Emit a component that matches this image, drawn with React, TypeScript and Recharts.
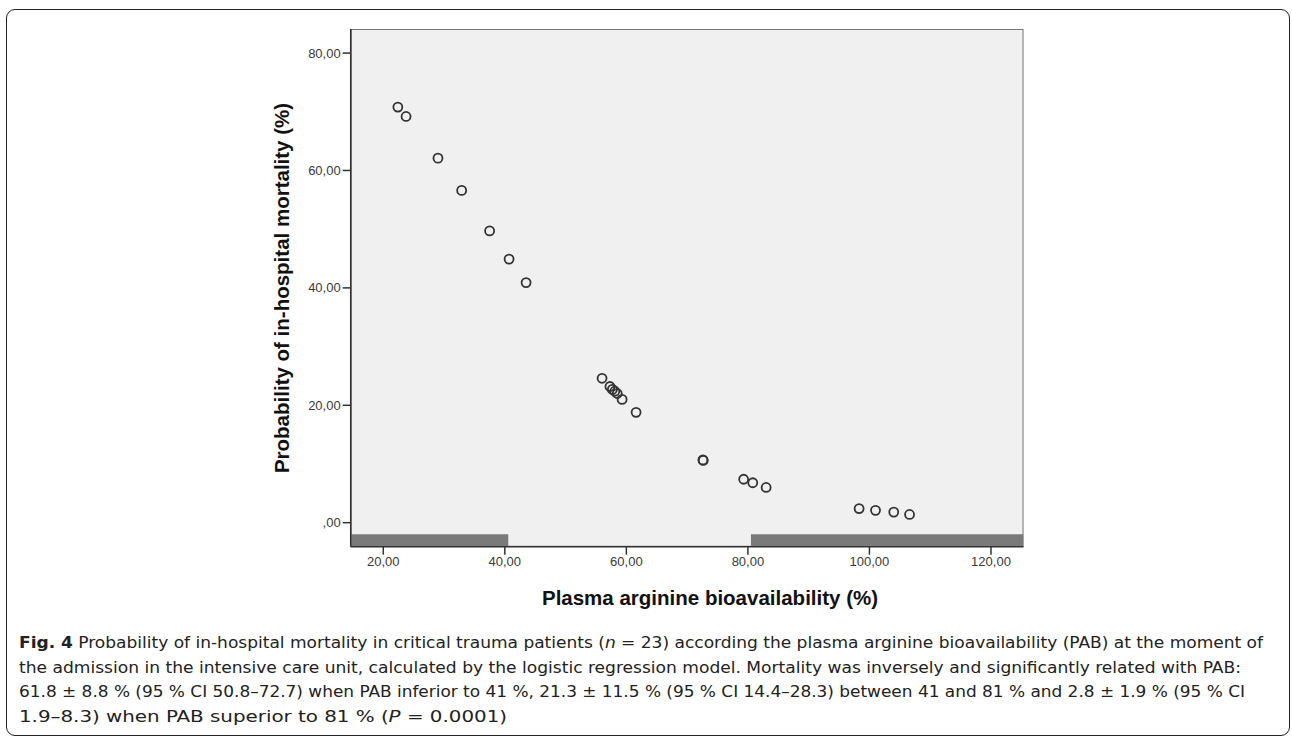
import { ScatterChart, Scatter, XAxis, YAxis, CartesianGrid, ReferenceArea, Label } from 'recharts';

// values (n = 23)
const pab = [22.4, 23.75, 29.0, 32.9, 37.5, 40.7, 43.5, 56.0, 57.3, 57.7, 58.1, 58.5, 59.3, 61.6, 72.6, 72.65, 79.3, 80.8, 83.0, 98.3, 101.0, 104.0, 106.6];
const mortality = [70.8, 69.2, 62.1, 56.6, 49.7, 44.9, 40.9, 24.6, 23.2, 22.7, 22.4, 22.0, 21.0, 18.8, 10.7, 10.6, 7.4, 6.8, 6.0, 2.4, 2.1, 1.8, 1.4];

const xTicks = [20, 40, 60, 80, 100, 120];
const xTickLabels = ['20,00', '40,00', '60,00', '80,00', '100,00', '120,00'];
const yTicks = [0, 20, 40, 60, 80];
const yTickLabels = [',00', '20,00', '40,00', '60,00', '80,00'];

// PAB groups marked by the grey bars along the x axis
const lowGroup = [14.64, 40.57];
const highGroup = [80.5, 125.35];

const xDomain = [14.64, 125.35];
const yDomain = [-4.09, 84.1];
const barBand = [-4.09, -1.98];

const captionLines = [
  [{ t: 'Fig. 4', b: true }, { t: ' Probability of in-hospital mortality in critical trauma patients (' }, { t: 'n', i: true }, { t: ' = 23) according the plasma arginine bioavailability (PAB) at the moment of' }],
  [{ t: 'the admission in the intensive care unit, calculated by the logistic regression model. Mortality was inversely and significantly related with PAB:' }],
  [{ t: '61.8 ± 8.8 % (95 % CI 50.8–72.7) when PAB inferior to 41 %, 21.3 ± 11.5 % (95 % CI 14.4–28.3) between 41 and 81 % and 2.8 ± 1.9 % (95 % CI' }],
  [{ t: '1.9–8.3) when PAB superior to 81 % (' }, { t: 'P', i: true }, { t: ' = 0.0001)' }],
];
const captionWidths = [1244, 1222, 1226, 488];

const data = pab.map((x, i) => ({ x, y: mortality[i] }));

const fmt = (ticks: number[], labels: string[]) => (v: number) => {
  const i = ticks.indexOf(v);
  return i >= 0 ? labels[i] : String(v);
};

const arial = "'Liberation Sans', Arial, Helvetica, sans-serif";
const tickStyle = { fill: '#3a3a3a', fontSize: 13, fontFamily: arial };

const Ring = (props: any) => (
  <circle cx={props.cx} cy={props.cy} r={4.5} fill="none" stroke="#333" strokeWidth={1.8} />
);

export default function App() {
  return (
    <div style={{ position: 'absolute', left: 0, top: 0, width: 1292, height: 737, background: '#fff' }}>
      <div
        style={{
          position: 'absolute',
          left: 6,
          top: 9,
          width: 1284,
          height: 727,
          boxSizing: 'border-box',
          border: '1.5px solid #222',
          borderRadius: 9,
        }}
      />
      <div style={{ position: 'absolute', left: 0, top: 0 }}>
        <ScatterChart width={1292} height={620} margin={{ top: 29, right: 268.5, bottom: 0, left: 0 }}>
          <CartesianGrid horizontal={false} vertical={false} fill="#f0f0f0" />
          <ReferenceArea x1={xDomain[0]} x2={xDomain[1]} y1={yDomain[0]} y2={yDomain[1]} fill="none" stroke="#777" strokeWidth={2} ifOverflow="hidden" />
          <ReferenceArea x1={lowGroup[0]} x2={lowGroup[1]} y1={barBand[0]} y2={barBand[1]} fill="#7a7a7a" fillOpacity={1} stroke="none" ifOverflow="hidden" />
          <ReferenceArea x1={highGroup[0]} x2={highGroup[1]} y1={barBand[0]} y2={barBand[1]} fill="#7a7a7a" fillOpacity={1} stroke="none" ifOverflow="hidden" />
          <XAxis
            dataKey="x"
            type="number"
            domain={xDomain}
            allowDataOverflow
            ticks={xTicks}
            tickFormatter={fmt(xTicks, xTickLabels)}
            height={73.3}
            tickSize={8}
            tick={tickStyle}
            axisLine={{ stroke: '#333', strokeWidth: 1.5 }}
            tickLine={{ stroke: '#333', strokeWidth: 1.5 }}
          >
            <Label
              content={() => (
                <text x={710} y={605} textAnchor="middle" fontFamily={arial} fontWeight="bold" fontSize={20.5} fill="#111">
                  Plasma arginine bioavailability (%)
                </text>
              )}
            />
          </XAxis>
          <YAxis
            dataKey="y"
            type="number"
            domain={yDomain}
            allowDataOverflow
            ticks={yTicks}
            tickFormatter={fmt(yTicks, yTickLabels)}
            width={350.7}
            tickSize={8}
            tick={tickStyle}
            axisLine={{ stroke: '#333', strokeWidth: 1.5 }}
            tickLine={{ stroke: '#333', strokeWidth: 1.5 }}
          >
            <Label
              content={() => (
                <text
                  x={281}
                  y={288}
                  transform="rotate(-90 281 288)"
                  textAnchor="middle"
                  dominantBaseline="central"
                  fontFamily={arial}
                  fontWeight="bold"
                  fontSize={20.5}
                  fill="#111"
                >
                  Probability of in-hospital mortality (%)
                </text>
              )}
            />
          </YAxis>
          <Scatter data={data} shape={Ring} isAnimationActive={false} />
        </ScatterChart>
      </div>
      <svg width={1292} height={737} style={{ position: 'absolute', left: 0, top: 0, pointerEvents: 'none' }}>
        {captionLines.map((line, li) => (
          <text
            key={li}
            x={19}
            y={648 + li * 24.5}
            textLength={captionWidths[li]}
            lengthAdjust="spacingAndGlyphs"
            fontFamily="'Liberation Sans Narrow', 'DejaVu Sans Condensed', 'Open Sans', sans-serif"
            fontSize={16}
            fill="#222"
          >
            {line.map((seg: any, si) => (
              <tspan key={si} fontWeight={seg.b ? 'bold' : 'normal'} fontStyle={seg.i ? 'italic' : 'normal'}>
                {seg.t}
              </tspan>
            ))}
          </text>
        ))}
      </svg>
    </div>
  );
}
